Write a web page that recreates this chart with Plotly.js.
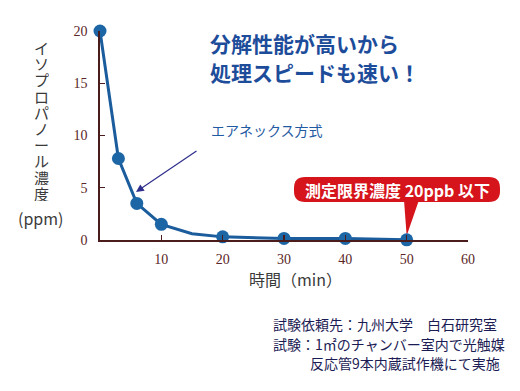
<!DOCTYPE html>
<html>
<head>
<meta charset="utf-8">
<script src="https://cdn.plot.ly/plotly-3.0.1.min.js"></script>
<style>html,body{margin:0;padding:0;background:#fff;}#chart{width:520px;height:391px;}</style>
</head>
<body>
<div id="chart"></div>
<script>
// Data
const lineTimes = [0, 3, 6, 10, 15, 20, 30, 40, 50];
const lineValues = [20, 7.8, 3.5, 1.5, 0.6, 0.3, 0.15, 0.15, 0.02];
const pointTimes = [0, 3, 6, 10, 20, 30, 40, 50];
const pointValues = [20, 7.8, 3.5, 1.5, 0.3, 0.15, 0.15, 0.02];
const xTickVals = [10, 20, 30, 40, 50, 60];
const yTickVals = [0, 5, 10, 15, 20];
const yTitleChars = "イソプロパノール濃度";
const titleLines = ["分解性能が高いから", "処理スピードも速い！"];
const seriesLabel = "エアネックス方式";
const calloutText = "測定限界濃度 20ppb 以下";
const noteLines = ["試験依頼先：九州大学　白石研究室", "試験：1㎡のチャンバー室内で光触媒", "反応管9本内蔵試作機にて実施"];

// layout helpers: pixel -> paper
const L = 100, R = 468, T = 31, B = 240;
const px = x => (x - L) / (R - L);
const py = y => (B - y) / (B - T);

const axisCol = '#4a1c1c';
const tickFont = {family: 'Liberation Serif, DejaVu Serif, serif', size: 14, color: '#5a2626'};
const jp = 'Noto Sans CJK JP, sans-serif';

const traces = [
  {x: lineTimes, y: lineValues, mode: 'lines', line: {color: '#1b5c9c', width: 3}, cliponaxis: false, hoverinfo: 'skip'},
  {x: pointTimes, y: pointValues, mode: 'markers', marker: {color: '#1d66a6', size: 13}, cliponaxis: false}
];

const annotations = [];
// vertical y title, one upright character per box
for (let i = 0; i < yTitleChars.length; i++) {
  annotations.push({xref: 'paper', yref: 'paper', x: px(41), y: py(47 + i * 16.2), text: yTitleChars[i],
    showarrow: false, xanchor: 'center', yanchor: 'middle', height: 16, borderpad: 0,
    font: {family: jp, size: 15, color: '#3a3a3a'}});
}
annotations.push({xref: 'paper', yref: 'paper', x: px(40), y: py(218), text: '(ppm)', showarrow: false,
  xanchor: 'center', yanchor: 'middle', font: {family: jp, size: 16, color: '#3a3a3a'}});
// x title
annotations.push({xref: 'paper', yref: 'paper', x: px(295), y: py(279), text: '時間（min）', showarrow: false,
  xanchor: 'center', yanchor: 'middle', font: {family: jp, size: 16, color: '#3a3a3a'}});
// headline
titleLines.forEach((t, i) => annotations.push({xref: 'paper', yref: 'paper', x: px(208), y: py(43 + i * 29), text: '<b>' + t + '</b>',
  showarrow: false, xanchor: 'left', yanchor: 'middle', font: {family: jp, size: 21, color: '#1d4c9a'}}));
// series label
annotations.push({xref: 'paper', yref: 'paper', x: px(209), y: py(130), text: seriesLabel, showarrow: false,
  xanchor: 'left', yanchor: 'middle', font: {family: jp, size: 14, color: '#1f5aa2'}});
// arrow pointing to the line
annotations.push({xref: 'paper', yref: 'paper', x: px(136), y: py(192), ax: 62, ay: -42, text: '', showarrow: true,
  arrowhead: 2, arrowsize: 1.3, arrowwidth: 1.2, arrowcolor: '#2e2e8c'});
// callout text
annotations.push({xref: 'paper', yref: 'paper', x: px(397), y: py(189.5), text: '<b>' + calloutText + '</b>', showarrow: false,
  xanchor: 'center', yanchor: 'middle', font: {family: jp, size: 16, color: '#ffffff'}});
// footnotes
const noteX = [271, 271, 308];
noteLines.forEach((t, i) => annotations.push({xref: 'paper', yref: 'paper', x: px(noteX[i]), y: py(324 + i * 19.5), text: t,
  showarrow: false, xanchor: 'left', yanchor: 'middle', font: {family: jp, size: 14, color: '#1c1c55'}}));

// rounded callout box
const x0 = 294, x1 = 500, y0 = 177, y1 = 202, r = 11;
const P = (x, y) => px(x) + ',' + py(y);
const boxPath = 'M' + P(x0 + r, y0) + ' L' + P(x1 - r, y0) + ' Q' + P(x1, y0) + ' ' + P(x1, y0 + r) +
  ' L' + P(x1, y1 - r) + ' Q' + P(x1, y1) + ' ' + P(x1 - r, y1) + ' L' + P(x0 + r, y1) +
  ' Q' + P(x0, y1) + ' ' + P(x0, y1 - r) + ' L' + P(x0, y0 + r) + ' Q' + P(x0, y0) + ' ' + P(x0 + r, y0) + ' Z';
const lastX = pointTimes[pointTimes.length - 1], lastY = pointValues[pointValues.length - 1];
const tipX = L + (lastX / 60) * (R - L);
const tipY = B - (lastY / 20) * (B - T) - 4;
const pointerPath = 'M' + P(404, 200) + ' L' + P(419, 200) + ' L' + P(tipX, tipY) + ' Z';

const shapes = [
  {type: 'path', xref: 'paper', yref: 'paper', path: pointerPath, fillcolor: '#d5141b', line: {width: 0}, layer: 'below'},
  {type: 'path', xref: 'paper', yref: 'paper', path: boxPath, fillcolor: '#d5141b', line: {width: 0}}
];

const layout = {
  width: 520, height: 391,
  margin: {l: L, r: 520 - R, t: T, b: 391 - B, pad: 0},
  paper_bgcolor: '#ffffff', plot_bgcolor: '#ffffff',
  showlegend: false,
  xaxis: {range: [0, 60], tickvals: xTickVals, ticks: 'inside', ticklen: 5, tickcolor: axisCol, tickwidth: 1.2,
    showline: true, linecolor: axisCol, linewidth: 1.6, showgrid: false, zeroline: false, tickfont: tickFont,
    ticklabelstandoff: 6, fixedrange: true},
  yaxis: {range: [0, 20], tickvals: yTickVals, ticks: 'inside', ticklen: 5, tickcolor: axisCol, tickwidth: 1.2,
    showline: true, linecolor: axisCol, linewidth: 1.6, showgrid: false, zeroline: false, tickfont: tickFont,
    ticklabelstandoff: 8, fixedrange: true},
  annotations: annotations,
  shapes: shapes
};

Plotly.newPlot('chart', traces, layout, {staticPlot: true, displayModeBar: false});
</script>
</body>
</html>
